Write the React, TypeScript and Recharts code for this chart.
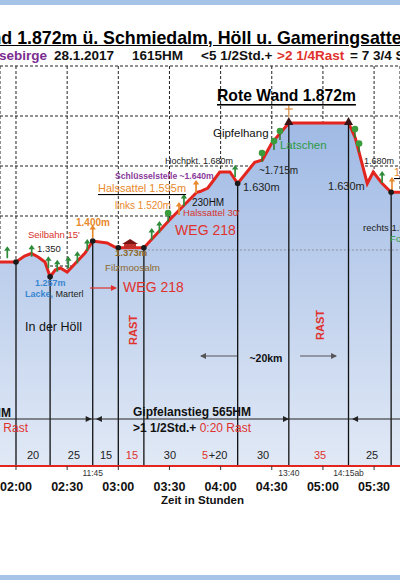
import React from "react";
import {
  ComposedChart,
  Area,
  XAxis,
  YAxis,
  CartesianGrid,
  ReferenceLine,
  Scatter,
} from "recharts";

const FONT = '"Liberation Sans", Arial, Helvetica, sans-serif';

// profile: minutes since start, elevation in m
const minutes = [
  100, 120, 125, 129, 133, 137, 140, 143, 146, 150, 155, 160.5, 165, 173.5, 178, 180, 195, 210,
  226, 228, 232.5, 239.5, 245.5, 250, 260, 264.5, 270, 280, 315, 319, 326, 329.5, 334.5, 340, 360,
];
const elevation = [
  1316, 1316, 1340, 1350, 1336, 1316, 1257, 1284, 1292, 1276, 1312, 1352, 1400, 1392, 1376, 1373,
  1373, 1484, 1595, 1598, 1612, 1676, 1676, 1630, 1715, 1724, 1792, 1872, 1872, 1812, 1630, 1676,
  1632, 1595, 1595,
];

const waypointMinutes = [120, 140, 165, 180, 195, 250, 280, 315, 340];
const waypointElevation = [1316, 1257, 1400, 1373, 1373, 1630, 1872, 1872, 1595];

const hourTicks = [120, 150, 180, 210, 240, 270, 300, 330];
const elevationTicks = [500, 700, 900, 1100, 1300, 1500, 1700, 1900, 2100];

const clockMinutes = [165, 280, 315];
const clockLabels = ["11:45", "13:40", "14:15ab"];

const legMinutes = [130, 154, 172.8, 188, 210.3, 230.9, 238.5, 264.9, 298.3, 328.8];
const legLabels = ["20", "25", "15", "15", "30", "5", "+20", "30", "35", "25"];
const legIsRest = [false, false, false, true, false, true, false, false, true, false];

// green / orange markers (minutes, elevation at foot)
const greenArrowMinutes = [114.9, 129.2, 139, 144.2, 150.7, 156, 161.8, 199.6, 204.1, 218.5, 248.5, 334.7];
const greenArrowElevation = [1331, 1337, 1291, 1277, 1291, 1311, 1360, 1404, 1432, 1540, 1656, 1632];
const orangeArrowMinutes = [165, 215.6, 225.6, 340.5];
const orangeArrowElevation = [1412, 1504, 1592, 1604];
const treeMinutes = [209.2, 264.3, 271.3, 274.8, 318.8, 321.2];
const treeElevation = [1476, 1716, 1764, 1804, 1812, 1754];

const RED = "#e2261f";
const ORANGE = "#e8892c";
const GREEN = "#2f9a45";

type Part = { s: string; c: string; b?: boolean };
type Note = {
  t: number;
  e: number;
  parts: Part[];
  size: number;
  anchor?: "start" | "middle" | "end";
  underline?: boolean;
  rotate?: boolean;
};

const notes: Note[] = [
  { t: 237.9, e: 1984, parts: [{ s: "Rote Wand 1.872m", c: "#000", b: true }], size: 15.7, underline: true },
  { t: 235.5, e: 1832, parts: [{ s: "Gipfelhang", c: "#111" }], size: 11.5 },
  { t: 274.8, e: 1784, parts: [{ s: "Latschen", c: GREEN }], size: 11.5 },
  { t: 207.4, e: 1720, parts: [{ s: "Hochpkt. 1.680m", c: "#222" }], size: 9 },
  { t: 178.1, e: 1660, parts: [{ s: "Schlüsselstelle ~1.640m", c: "#8a3a9c", b: true }], size: 8.6 },
  { t: 168.1, e: 1612, parts: [{ s: "Halssattel 1.595m", c: ORANGE }], size: 11, underline: true },
  { t: 178.1, e: 1544, parts: [{ s: "links 1.520m", c: ORANGE }], size: 10 },
  { t: 223.2, e: 1556, parts: [{ s: "230HM", c: "#111" }], size: 10 },
  { t: 218, e: 1516, parts: [{ s: "Halssattel 30'", c: "#d8342c" }], size: 9.5 },
  { t: 213.3, e: 1444, parts: [{ s: "WEG 218", c: "#e0322c" }], size: 14 },
  { t: 262.5, e: 1684, parts: [{ s: "~1.715m", c: "#222" }], size: 10 },
  { t: 253.1, e: 1616, parts: [{ s: "1.630m", c: "#222" }], size: 11 },
  { t: 303, e: 1620, parts: [{ s: "1.630m", c: "#222" }], size: 11 },
  { t: 324.1, e: 1720, parts: [{ s: "1.680m", c: "#222" }], size: 9 },
  { t: 341.7, e: 1676, parts: [{ s: "1.595m", c: ORANGE }], size: 11, underline: true },
  { t: 323.5, e: 1456, parts: [{ s: "rechts 1.560m", c: "#222" }], size: 9.5 },
  { t: 339.4, e: 1412, parts: [{ s: "Forststraße", c: GREEN }], size: 9.5 },
  { t: 155.2, e: 1476, parts: [{ s: "1.400m", c: ORANGE, b: true }], size: 10 },
  { t: 127, e: 1428, parts: [{ s: "Seilbahn 15'", c: "#d8342c" }], size: 9.5 },
  { t: 132.3, e: 1372, parts: [{ s: "1.350", c: "#222" }], size: 9.5 },
  { t: 131.1, e: 1232, parts: [{ s: "1.257m", c: "#3a86d1", b: true }], size: 9 },
  { t: 125.3, e: 1188, parts: [{ s: "Lacke,", c: "#3a86d1", b: true }, { s: " Marterl", c: "#222" }], size: 9 },
  { t: 178.1, e: 1356, parts: [{ s: "1.373m", c: "#8c6a2c", b: true }], size: 9.5 },
  { t: 172.2, e: 1296, parts: [{ s: "Filzmoosalm", c: "#8c6a2c" }], size: 9.8 },
  { t: 182.8, e: 1216, parts: [{ s: "WEG 218", c: "#e0322c" }], size: 14 },
  { t: 125.3, e: 1056, parts: [{ s: "In der Höll", c: "#111" }], size: 12.5 },
  { t: 188.6, e: 1044, parts: [{ s: "RAST", c: "#e0322c", b: true }], size: 11, anchor: "middle", rotate: true },
  { t: 298.3, e: 1064, parts: [{ s: "RAST", c: "#e0322c", b: true }], size: 11, anchor: "middle", rotate: true },
  { t: 266.6, e: 932, parts: [{ s: "~20km", c: "#111", b: true }], size: 10.5, anchor: "middle" },
  { t: 188.6, e: 716, parts: [{ s: "Gipfelanstieg 565HM", c: "#111", b: true }], size: 12 },
  {
    t: 188.6,
    e: 652,
    parts: [{ s: ">1 1/2Std.+", c: "#111", b: true }, { s: " 0:20 Rast", c: "#e0322c" }],
    size: 12,
  },
  { t: 117.07, e: 712, parts: [{ s: "Anstieg 1050HM", c: "#111", b: true }], size: 12, anchor: "end" },
  { t: 127.04, e: 652, parts: [{ s: "+ 1:00 Rast", c: "#e0322c" }], size: 12, anchor: "end" },
];

const leftHeads = [
  { t: 227.9, e: 940, c: "#555" },
  { t: 166.9, e: 688, c: "#222" },
  { t: 317.1, e: 688, c: "#222" },
];
const rightHeads = [
  { t: 308.3, e: 940, c: "#555" },
  { t: 179.2, e: 1212, c: "#e0322c" },
  { t: 164.4, e: 688, c: "#222" },
  { t: 280.1, e: 688, c: "#222" },
];

const profile = minutes.map((t, i) => ({ t, elev: elevation[i] }));
const waypoints = waypointMinutes.map((t, i) => ({ t, e: waypointElevation[i] }));
const nodes = waypoints.filter((w) => w.t !== 280 && w.t !== 315);
const peaks = waypoints.filter((w) => w.t === 280 || w.t === 315);
const clocks = clockMinutes.map((t, i) => ({ t, e: 500, label: clockLabels[i] }));
const legs = legMinutes.map((t, i) => ({ t, e: 544, label: legLabels[i], rest: legIsRest[i] }));
const greenArrows = greenArrowMinutes.map((t, i) => ({ t, e: greenArrowElevation[i] }));
const orangeArrows = orangeArrowMinutes.map((t, i) => ({ t, e: orangeArrowElevation[i] }));
const trees = treeMinutes.map((t, i) => ({ t, e: treeElevation[i] }));
const hut = [{ t: 186.9, e: 1388 }];

const X_DOMAIN: [number, number] = [110.62, 345.2];

const fmt = (m: number) => {
  const h = Math.floor(m / 60);
  const mm = m % 60;
  return `${String(h).padStart(2, "0")}:${String(mm).padStart(2, "0")}`;
};

const NoteShape = (p: any) => {
  const { cx, cy, payload } = p;
  const n: Note = payload;
  const tr = n.rotate ? `rotate(-90 ${cx} ${cy})` : undefined;
  return (
    <text
      x={cx}
      y={cy}
      transform={tr}
      textAnchor={n.anchor || "start"}
      dominantBaseline="central"
      fontFamily={FONT}
      fontSize={n.size}
      textDecoration={n.underline ? "underline" : undefined}
    >
      {n.parts.map((pt, i) => (
        <tspan key={i} fill={pt.c} fontWeight={pt.b ? "bold" : "normal"}>
          {pt.s}
        </tspan>
      ))}
    </text>
  );
};

const upArrow = (color: string, len: number) => (p: any) => {
  const { cx, cy } = p;
  return (
    <g>
      <line x1={cx} y1={cy} x2={cx} y2={cy - len + 3} stroke={color} strokeWidth={1.7} />
      <path d={`M${cx - 3.2},${cy - len + 4.5} L${cx},${cy - len} L${cx + 3.2},${cy - len + 4.5} Z`} fill={color} />
    </g>
  );
};

const TreeShape = (p: any) => {
  const { cx, cy } = p;
  return (
    <g>
      <line x1={cx} y1={cy} x2={cx} y2={cy - 7} stroke="#2c7a2c" strokeWidth={1.5} />
      <circle cx={cx} cy={cy - 9} r={3.3} fill="#3a9c3a" />
    </g>
  );
};

const NodeShape = (p: any) => <circle cx={p.cx} cy={p.cy} r={2.8} fill="#1a1a1a" />;

const PeakShape = (p: any) => {
  const { cx, cy, payload } = p;
  return (
    <g>
      {payload.t === 280 && (
        <g stroke="#d98a3a" strokeWidth={1.2}>
          <line x1={cx} y1={cy - 18} x2={cx} y2={cy - 6} />
          <line x1={cx - 4} y1={cy - 14} x2={cx + 4} y2={cy - 14} />
        </g>
      )}
      <path d={`M${cx - 4.5},${cy + 2} L${cx},${cy - 6} L${cx + 4.5},${cy + 2} Z`} fill="#3a1414" />
    </g>
  );
};

const HutShape = (p: any) => {
  const { cx, cy } = p;
  return (
    <g>
      <path d={`M${cx - 8},${cy} L${cx},${cy - 5} L${cx + 8},${cy} Z`} fill="#7a1414" />
      <rect x={cx - 6} y={cy} width={12} height={4.5} fill="#c0302a" />
    </g>
  );
};

const headShape = (dir: number) => (p: any) => {
  const { cx, cy, payload } = p;
  return (
    <path d={`M${cx},${cy} L${cx - dir * 6},${cy - 3} L${cx - dir * 6},${cy + 3} Z`} fill={payload.c} />
  );
};

const ClockShape = (p: any) => (
  <text x={p.cx} y={p.cy + 7} textAnchor="middle" dominantBaseline="central" fontFamily={FONT} fontSize={8.5} fill="#333">
    {p.payload.label}
  </text>
);

const LegShape = (p: any) => (
  <text
    x={p.cx}
    y={p.cy}
    textAnchor="middle"
    dominantBaseline="central"
    fontFamily={FONT}
    fontSize={11}
    fill={p.payload.rest ? "#e0322c" : "#222"}
  >
    {p.payload.label}
  </text>
);

export default function App() {
  return (
    <div
      style={{
        position: "absolute",
        left: 0,
        top: 0,
        width: 400,
        height: 580,
        overflow: "hidden",
        background: "#fff",
        fontFamily: FONT,
      }}
    >
      <div style={{ position: "absolute", left: 0, top: 0 }}>
        <ComposedChart width={400} height={580} data={profile} margin={{ top: 66, right: 0, bottom: 84, left: 0 }}>
          <defs>
            <linearGradient id="hillFill" x1="0" y1="0" x2="0" y2="1">
              <stop offset="0%" stopColor="#a0bae5" />
              <stop offset="55%" stopColor="#c4d4ee" />
              <stop offset="100%" stopColor="#e1e9f6" />
            </linearGradient>
          </defs>
          <CartesianGrid stroke="#222" strokeDasharray="3 2" />
          <XAxis
            dataKey="t"
            type="number"
            domain={X_DOMAIN}
            allowDataOverflow
            ticks={hourTicks}
            interval={0}
            tickFormatter={fmt}
            height={30}
            tickSize={4}
            tickMargin={12}
            axisLine={{ stroke: RED, strokeWidth: 2 }}
            tickLine={{ stroke: "#333" }}
            tick={{ fill: "#111", fontSize: 12.5, fontWeight: "bold", fontFamily: FONT }}
          />
          <XAxis xAxisId="notes" dataKey="t" type="number" domain={X_DOMAIN} hide />
          <YAxis type="number" domain={[500, 2100]} ticks={elevationTicks} hide />
          <Area
            type="linear"
            dataKey="elev"
            stroke={RED}
            strokeWidth={3}
            fill="url(#hillFill)"
            fillOpacity={1}
            isAnimationActive={false}
            dot={false}
            activeDot={false}
          />
          <ReferenceLine
            segment={[
              { x: 195, y: 1364 },
              { x: 345.2, y: 1364 },
            ]}
            stroke="#8a8f99"
            strokeDasharray="2 2"
          />
          {waypoints.map((w) => (
            <ReferenceLine
              key={w.t}
              segment={[
                { x: w.t, y: 500 },
                { x: w.t, y: w.e },
              ]}
              stroke="#111"
              strokeWidth={1.3}
            />
          ))}
          <ReferenceLine y={688} stroke="#222" strokeWidth={1} />
          <ReferenceLine
            segment={[
              { x: 249.6, y: 940 },
              { x: 228.5, y: 940 },
            ]}
            stroke="#555"
            strokeWidth={1.2}
          />
          <ReferenceLine
            segment={[
              { x: 286.6, y: 940 },
              { x: 307.7, y: 940 },
            ]}
            stroke="#555"
            strokeWidth={1.2}
          />
          <ReferenceLine
            segment={[
              { x: 163.4, y: 1212 },
              { x: 178.6, y: 1212 },
            ]}
            stroke="#e0322c"
            strokeWidth={1.2}
          />
          <Scatter xAxisId="notes" data={greenArrows} dataKey="e" shape={upArrow("#2e8b3a", 12)} isAnimationActive={false} />
          <Scatter xAxisId="notes" data={orangeArrows} dataKey="e" shape={upArrow(ORANGE, 13)} isAnimationActive={false} />
          <Scatter xAxisId="notes" data={trees} dataKey="e" shape={TreeShape} isAnimationActive={false} />
          <Scatter xAxisId="notes" data={hut} dataKey="e" shape={HutShape} isAnimationActive={false} />
          <Scatter xAxisId="notes" data={nodes} dataKey="e" shape={NodeShape} isAnimationActive={false} />
          <Scatter xAxisId="notes" data={peaks} dataKey="e" shape={PeakShape} isAnimationActive={false} />
          <Scatter xAxisId="notes" data={leftHeads} dataKey="e" shape={headShape(-1)} isAnimationActive={false} />
          <Scatter xAxisId="notes" data={rightHeads} dataKey="e" shape={headShape(1)} isAnimationActive={false} />
          <Scatter xAxisId="notes" data={legs} dataKey="e" shape={LegShape} isAnimationActive={false} />
          <Scatter xAxisId="notes" data={clocks} dataKey="e" shape={ClockShape} isAnimationActive={false} />
          <Scatter xAxisId="notes" data={notes} dataKey="e" shape={NoteShape} isAnimationActive={false} />
        </ComposedChart>
      </div>

      <div style={{ position: "absolute", left: 0, top: 0, width: 400, height: 5, background: "#a6c3e8" }} />
      <div
        style={{
          position: "absolute",
          left: -80,
          top: 28,
          whiteSpace: "nowrap",
          fontSize: 17.8,
          lineHeight: "20px",
          fontWeight: "bold",
          color: "#000",
          textDecoration: "underline",
        }}
      >
        Rote Wand 1.872m ü. Schmiedalm, Höll u. Gameringsattel
      </div>
      <div style={{ position: "absolute", top: 48, left: 0, width: 400, height: 16, fontSize: 13.5, fontWeight: "bold", lineHeight: "16px", whiteSpace: "nowrap" }}>
        <span style={{ position: "absolute", left: -1, color: "#7a2d8f" }}>sebirge</span>
        <span style={{ position: "absolute", left: 54, color: "#111" }}>28.1.2017</span>
        <span style={{ position: "absolute", left: 132, color: "#111" }}>1615HM</span>
        <span style={{ position: "absolute", left: 201, color: "#111" }}>&lt;5 1/2Std.+</span>
        <span style={{ position: "absolute", left: 277, color: "#e0322c" }}>&gt;2 1/4Rast</span>
        <span style={{ position: "absolute", left: 350, color: "#111" }}>= 7 3/4 Std.</span>
      </div>
      <div
        style={{
          position: "absolute",
          top: 493,
          left: 0,
          width: 405,
          textAlign: "center",
          fontSize: 11.5,
          fontWeight: "bold",
          lineHeight: "14px",
          color: "#111",
        }}
      >
        Zeit in Stunden
      </div>
      <div style={{ position: "absolute", left: 0, top: 575, width: 400, height: 5, background: "#a6c3e8" }} />
    </div>
  );
}
